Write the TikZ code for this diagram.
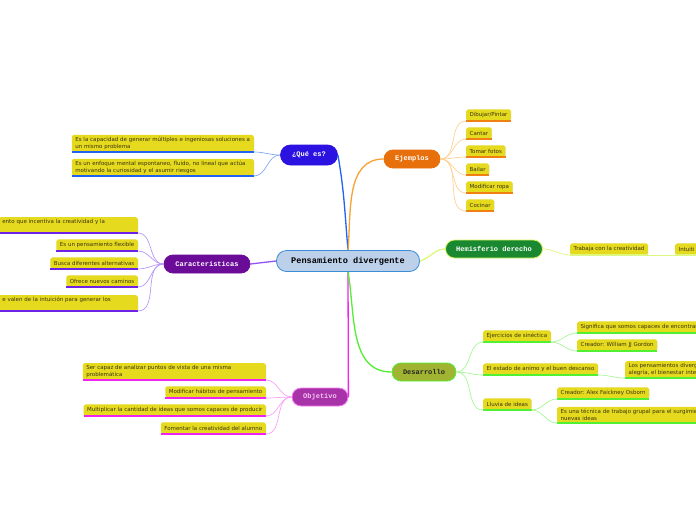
\documentclass[tikz,border=0pt]{standalone}
\usepackage{fontspec}
\setmainfont{DejaVu Sans}
\setmonofont{Liberation Mono}
\usetikzlibrary{shadows}

\definecolor{leafyellow}{HTML}{E6DA1E}
\definecolor{leaftext}{HTML}{3A3412}
\definecolor{centerfill}{HTML}{BCD0EA}
\definecolor{centerline}{HTML}{3A8ED8}
\definecolor{quefill}{HTML}{2C12E0}
\definecolor{queline}{HTML}{2262F0}
\definecolor{queleaf}{HTML}{86A8F6}
\definecolor{carfill}{HTML}{6A0C98}
\definecolor{carline}{HTML}{9452F2}
\definecolor{carunder}{HTML}{6E22E8}
\definecolor{carleaf}{HTML}{B898F8}
\definecolor{obfill}{HTML}{A832A8}
\definecolor{obline}{HTML}{F024F0}
\definecolor{obleaf}{HTML}{F8A4F8}
\definecolor{obtext}{HTML}{F4C8F4}
\definecolor{ejfill}{HTML}{E8700C}
\definecolor{ejline}{HTML}{F8A232}
\definecolor{ejunder}{HTML}{F08012}
\definecolor{ejleaf}{HTML}{FFD294}
\definecolor{hdfill}{HTML}{1A8830}
\definecolor{hdline}{HTML}{DEF77E}
\definecolor{hdborder}{HTML}{D4F85C}
\definecolor{defill}{HTML}{A0B432}
\definecolor{deline}{HTML}{52F032}
\definecolor{deleaf}{HTML}{A6F896}

\begin{document}
\begin{tikzpicture}[
    x=1pt, y=1pt,
    topic/.style={rounded corners=9pt, minimum height=18pt, inner sep=0pt,
        line width=0.8pt, font=\ttfamily\bfseries\fontsize{7}{8}\selectfont},
    leaf/.style={fill=leafyellow, text=leaftext, rounded corners=1.8pt,
        inner xsep=3.5pt, inner ysep=2pt, minimum height=11.5pt, align=left,
        font=\fontsize{5.5}{7.4}\selectfont,
        drop shadow={opacity=0.2, shadow xshift=0.5pt, shadow yshift=-0.7pt},
        append after command={(\tikzlastnode.south west) edge[draw=#1, line width=1.4pt] (\tikzlastnode.south east)}},
    twig/.style={line width=0.7pt, draw=#1},
    branch/.style={line width=1.3pt, draw=#1}
]
\useasboundingbox (0,0) rectangle (696,-520);
\fill[white] (0,0) rectangle (696,-520);

% main topics
\node[topic, draw=centerline, fill=centerfill, minimum width=143pt, minimum height=21pt,
    rounded corners=10pt, font=\ttfamily\bfseries\fontsize{8.6}{10}\selectfont] (pd) at (348,-261) {Pensamiento divergente};
\node[topic, draw=quefill, fill=quefill, text=white, minimum width=57pt, minimum height=20pt, rounded corners=10pt] (qe) at (309,-155) {¿Qué es?};
\node[topic, draw=carfill, fill=carfill, text=white, minimum width=86pt] (car) at (207,-264) {Caracteristicas};
\node[topic, draw=obline!60, fill=obfill, text=obtext, minimum width=56pt] (ob) at (320,-397) {Objetivo};
\node[topic, draw=ejfill, fill=ejfill, text=white, minimum width=56pt] (ej) at (412,-159) {Ejemplos};
\node[topic, draw=hdborder, fill=hdfill, text=white, minimum width=97pt] (hd) at (494,-249) {Hemisferio derecho};
\node[topic, draw=deline, fill=defill, text=black!85, minimum width=64pt] (de) at (424,-372) {Desarrollo};

\draw[branch=queline] (pd.north) to[out=95,in=-80] (qe.east);
\draw[branch=ejline] (pd.north) to[out=85,in=180] (ej.west);
\draw[branch=carline] (pd.west) -- (car.east);
\draw[branch=obline] (pd.south) -- (ob.east);
\draw[branch=deline] (pd.south) to[out=-80,in=180] (de.west);
\draw[branch=hdline] (pd.east) to[out=15,in=180] (hd.west);

% ¿Qué es?
\node[leaf=queline, text width=175pt, anchor=south east] (q1) at (254,-152) {Es la capacidad de generar múltiples e ingeniosas soluciones a\\un mismo problema};
\node[leaf=queline, text width=175pt, anchor=south east] (q2) at (254,-176) {Es un enfoque mental espontaneo, fluido, no lineal que actúa\\motivando la curiosidad y el asumir riesgos};
\draw[twig=queleaf] (qe.west) to[out=180,in=0] (q1.south east);
\draw[twig=queleaf] (qe.west) to[out=180,in=0] (q2.south east);

% Caracteristicas
\node[leaf=carunder, text width=132pt, anchor=south east] (c1) at (138,-233) {ento que incentiva la creatividad y la\\\mbox{}};
\node[leaf=carunder, anchor=south east] (c2) at (138,-251) {Es un pensamiento flexible};
\node[leaf=carunder, anchor=south east] (c3) at (138,-269) {Busca diferentes alternativas};
\node[leaf=carunder, anchor=south east] (c4) at (138,-287) {Ofrece nuevos caminos};
\node[leaf=carunder, text width=132pt, anchor=south east] (c5) at (138,-311) {e valen de la intuición para generar los\\\mbox{}};
\draw[twig=carleaf] (car.west) to[out=180,in=0] (c1.south east);
\draw[twig=carleaf] (car.west) to[out=180,in=0] (c2.south east);
\draw[twig=carleaf] (car.west) to[out=180,in=0] (c3.south east);
\draw[twig=carleaf] (car.west) to[out=180,in=0] (c4.south east);
\draw[twig=carleaf] (car.west) to[out=180,in=0] (c5.south east);

% Objetivo
\node[leaf=obline, text width=176pt, anchor=south east] (o1) at (266,-380) {Ser capaz de analizar puntos de vista de una misma\\problemática};
\node[leaf=obline, anchor=south east] (o2) at (266,-398) {Modificar hábitos de pensamiento};
\node[leaf=obline, anchor=south east] (o3) at (266,-416) {Multiplicar la cantidad de ideas que somos capaces de producir};
\node[leaf=obline, anchor=south east] (o4) at (266,-434) {Fomentar la creatividad del alumno};
\draw[twig=obleaf] (ob.west) to[out=180,in=0] (o1.south east);
\draw[twig=obleaf] (ob.west) to[out=180,in=0] (o2.south east);
\draw[twig=obleaf] (ob.west) to[out=180,in=0] (o3.south east);
\draw[twig=obleaf] (ob.west) to[out=180,in=0] (o4.south east);

% Ejemplos
\node[leaf=ejunder, anchor=south west] (e1) at (466,-121) {Dibujar/Pintar};
\node[leaf=ejunder, anchor=south west] (e2) at (466,-139) {Cantar};
\node[leaf=ejunder, anchor=south west] (e3) at (466,-157) {Tomar fotos};
\node[leaf=ejunder, anchor=south west] (e4) at (466,-175) {Bailar};
\node[leaf=ejunder, anchor=south west] (e5) at (466,-193) {Modificar ropa};
\node[leaf=ejunder, anchor=south west] (e6) at (466,-211) {Cocinar};
\draw[twig=ejleaf] (ej.east) to[out=0,in=180] (e1.south west);
\draw[twig=ejleaf] (ej.east) to[out=0,in=180] (e2.south west);
\draw[twig=ejleaf] (ej.east) to[out=0,in=180] (e3.south west);
\draw[twig=ejleaf] (ej.east) to[out=0,in=180] (e4.south west);
\draw[twig=ejleaf] (ej.east) to[out=0,in=180] (e5.south west);
\draw[twig=ejleaf] (ej.east) to[out=0,in=180] (e6.south west);

% Hemisferio derecho
\node[leaf=hdline, anchor=south west] (h1) at (570,-255) {Trabaja con la creatividad};
\node[leaf=hdline, text width=30pt, anchor=south west] (h2) at (675,-255) {Intuiti};
\draw[twig=hdline] (hd.east) to[out=0,in=180] (h1.south west);
\draw[twig=hdline] (h1.south east) -- (h2.south west);

% Desarrollo
\node[leaf=deline, anchor=south west] (d1) at (483,-342) {Ejercicios de sinéctica};
\node[leaf=deline, anchor=south west] (d2) at (483,-375) {El estado de animo y el buen descanso};
\node[leaf=deline, anchor=south west] (d3) at (483,-410) {Lluvia de ideas};
\node[leaf=deline, text width=130pt, anchor=south west] (s1) at (577,-333) {Significa que somos capaces de encontrar};
\node[leaf=deline, anchor=south west] (s2) at (577,-351) {Creador: William JJ Gordon};
\node[leaf=deline, text width=80pt, anchor=south west] (a1) at (625,-378) {Los pensamientos diverg\\alegría, el bienestar inte};
\node[leaf=deline, anchor=south west] (l1) at (557,-399) {Creador: Alex Faickney Osborn};
\node[leaf=deline, text width=150pt, anchor=south west] (l2) at (557,-423) {Es una técnica de trabajo grupal para el surgimie\\nuevas ideas};
\draw[twig=deleaf] (de.east) to[out=0,in=180] (d1.south west);
\draw[twig=deleaf] (de.east) to[out=0,in=180] (d2.south west);
\draw[twig=deleaf] (de.east) to[out=0,in=180] (d3.south west);
\draw[twig=deleaf] (d1.south east) to[out=0,in=180] (s1.south west);
\draw[twig=deleaf] (d1.south east) to[out=0,in=180] (s2.south west);
\draw[twig=deleaf] (d2.south east) to[out=0,in=180] (a1.south west);
\draw[twig=deleaf] (d3.south east) to[out=0,in=180] (l1.south west);
\draw[twig=deleaf] (d3.south east) to[out=0,in=180] (l2.south west);
\end{tikzpicture}
\end{document}
